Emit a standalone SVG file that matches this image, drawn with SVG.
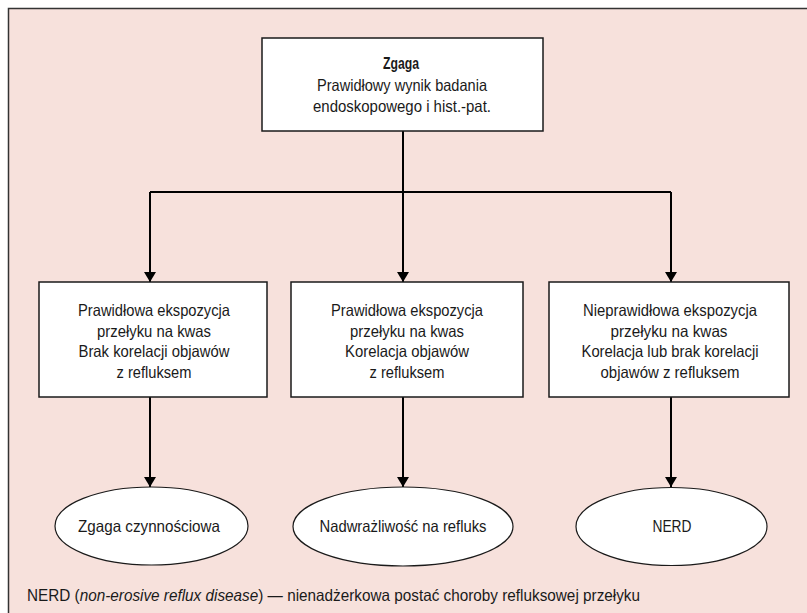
<svg xmlns="http://www.w3.org/2000/svg" width="807" height="613" viewBox="0 0 807 613">
<defs>
<style>
text{font-family:"Liberation Sans",Arial,sans-serif;font-size:16.5px;fill:#1a1a1a;text-anchor:middle;}
.box{fill:#fff;stroke:#1a1a1a;stroke-width:1.5;}
.ell{fill:#fff;stroke:#1a1a1a;stroke-width:1.2;}
.conn{stroke:#000;stroke-width:2;fill:none;}
.b{font-weight:bold;}
.fn{text-anchor:start;}
</style>
<marker id="arr" viewBox="0 0 10 12" refX="10" refY="6" markerWidth="10" markerHeight="12" markerUnits="userSpaceOnUse" orient="auto">
<path d="M0,0 L10,6 L0,12 Z" fill="#000"/>
</marker>
</defs>
<rect x="0" y="0" width="807" height="613" fill="#fff"/>
<rect x="8" y="8" width="800" height="606" fill="#f7e1dc"/>
<path d="M8.5,613 V8.5 H807" fill="none" stroke="#333" stroke-width="1.5"/>
<g id="connectors">
<path class="conn" d="M403,131 V192 M150,192 H671"/>
<path class="conn" d="M150,192 V282" marker-end="url(#arr)"/>
<path class="conn" d="M403,192 V282" marker-end="url(#arr)"/>
<path class="conn" d="M671,192 V282" marker-end="url(#arr)"/>
<path class="conn" d="M150,397 V487" marker-end="url(#arr)"/>
<path class="conn" d="M403,397 V487" marker-end="url(#arr)"/>
<path class="conn" d="M671,397 V487" marker-end="url(#arr)"/>
</g>
<g id="top">
<rect class="box" x="262" y="38" width="281" height="93"/>
<text class="b" x="401" y="69" textLength="36" lengthAdjust="spacingAndGlyphs">Zgaga</text>
<text x="402" y="91" textLength="170" lengthAdjust="spacingAndGlyphs">Prawidłowy wynik badania</text>
<text x="402" y="112" textLength="178" lengthAdjust="spacingAndGlyphs">endoskopowego i hist.-pat.</text>
</g>
<g id="box1">
<rect class="box" x="39" y="282" width="228" height="115"/>
<text x="154" y="316" textLength="152" lengthAdjust="spacingAndGlyphs">Prawidłowa ekspozycja</text>
<text x="154" y="337" textLength="114" lengthAdjust="spacingAndGlyphs">przełyku na kwas</text>
<text x="154" y="357" textLength="151" lengthAdjust="spacingAndGlyphs">Brak korelacji objawów</text>
<text x="154" y="378" textLength="75" lengthAdjust="spacingAndGlyphs">z refluksem</text>
</g>
<g id="box2">
<rect class="box" x="291" y="282" width="232" height="115"/>
<text x="407" y="316" textLength="152" lengthAdjust="spacingAndGlyphs">Prawidłowa ekspozycja</text>
<text x="407" y="337" textLength="114" lengthAdjust="spacingAndGlyphs">przełyku na kwas</text>
<text x="407" y="357" textLength="124" lengthAdjust="spacingAndGlyphs">Korelacja objawów</text>
<text x="407" y="378" textLength="75" lengthAdjust="spacingAndGlyphs">z refluksem</text>
</g>
<g id="box3">
<rect class="box" x="549" y="282" width="240" height="115"/>
<text x="670" y="316" textLength="174" lengthAdjust="spacingAndGlyphs">Nieprawidłowa ekspozycja</text>
<text x="669" y="337" textLength="117" lengthAdjust="spacingAndGlyphs">przełyku na kwas</text>
<text x="670" y="357" textLength="177" lengthAdjust="spacingAndGlyphs">Korelacja lub brak korelacji</text>
<text x="670" y="378" textLength="139" lengthAdjust="spacingAndGlyphs">objawów z refluksem</text>
</g>
<g id="ell1">
<ellipse class="ell" cx="151.5" cy="526" rx="96.5" ry="39"/>
<text x="149" y="532" textLength="142" lengthAdjust="spacingAndGlyphs">Zgaga czynnościowa</text>
</g>
<g id="ell2">
<ellipse class="ell" cx="403" cy="526.5" rx="110" ry="39.5"/>
<text x="403" y="532" textLength="167" lengthAdjust="spacingAndGlyphs">Nadwrażliwość na refluks</text>
</g>
<g id="ell3">
<ellipse class="ell" cx="671.5" cy="526.5" rx="95.5" ry="39"/>
<text x="672" y="532" textLength="39" lengthAdjust="spacingAndGlyphs">NERD</text>
</g>
<text class="fn" x="27" y="601" textLength="613" lengthAdjust="spacingAndGlyphs">NERD (<tspan font-style="italic">non-erosive reflux disease</tspan>) — nienadżerkowa postać choroby refluksowej przełyku</text>
</svg>
